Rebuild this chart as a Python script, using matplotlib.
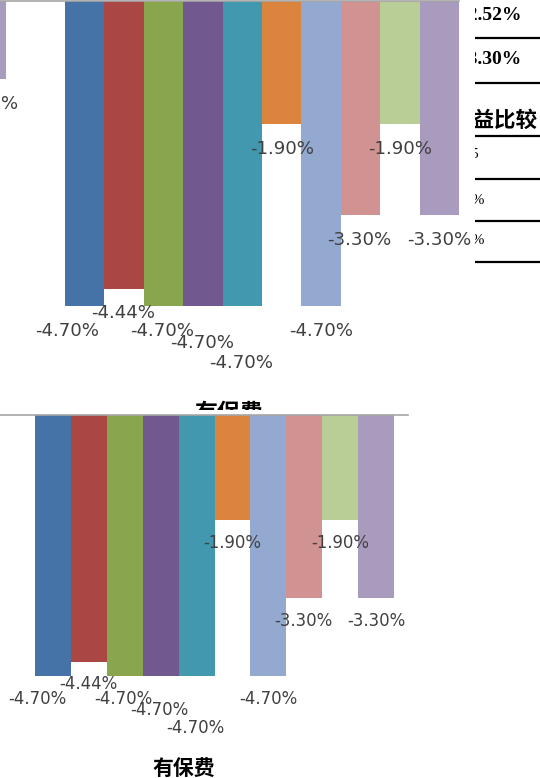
import numpy as np
import matplotlib.pyplot as plt

# ---------------- data ----------------
series_colors = ['#4572A7', '#AA4643', '#89A54E', '#71588F', '#4198AF',
                 '#DB843D', '#93A9CF', '#D19392', '#B9CD96', '#A99BBD']
values = [-4.70, -4.44, -4.70, -4.70, -4.70, -1.90, -4.70, -3.30, -1.90, -3.30]
category = '有保费'
prev_last = -1.20          # last bar of the group before, cut by the left edge

table_values = ['-2.52%', '-3.30%']
table_head = '收益比较'
table_tail = ['-0.45', '-1.30%', '-2.10%']

# label nudges (pixels, like excel moves the overlapping ones)
lab_dx = [-16, -1, -1, -1, -1, 0, 0, -1, 0, 0]
lab_dy = [0, 0.5, 0, -11.5, -29, 0, 0, -0.5, 0, -0.5]

W, H = 540, 778
fig = plt.figure(figsize=(W / 100, H / 100), dpi=100)


def px_axes(x0, x1, y0, y1):
    # axes from pixel box (y measured from top)
    return fig.add_axes([x0 / W, 1 - y1 / H, (x1 - x0) / W, (y1 - y0) / H])


def draw_chart(ax, s, fs, catfs, xmap, ymap, show_prev):
    x0, bw = xmap
    x = np.arange(len(values))
    ax.bar(x, values, width=1.0, color=series_colors, linewidth=0)
    if show_prev:
        ax.bar([-2.5], [prev_last], width=1.0, color=series_colors[-1], linewidth=0)
        ax.annotate('{:.2f}%'.format(prev_last), (-2.5, prev_last), xytext=(0, -25),
                    textcoords='offset pixels', ha='center', va='center',
                    fontsize=fs, color='#404040', annotation_clip=False)
    for i, v in enumerate(values):
        ax.annotate('{:.2f}%'.format(v), (x[i], v),
                    xytext=(lab_dx[i] * s, (-22.5 + lab_dy[i]) * s),
                    textcoords='offset pixels', ha='center', va='center',
                    fontsize=fs, color='#404040', annotation_clip=False)
    ax.text(3.65, -6.36, category, ha='center', va='center', fontsize=catfs,
            fontweight='bold', family=['Noto Sans CJK SC', 'DejaVu Sans'], clip_on=True)
    w_px = ax.get_position().width * W
    h_px = ax.get_position().height * H
    ax.set_xlim(-x0 / bw, (w_px - x0) / bw)
    ax.set_ylim(-h_px / ymap, 0)
    for sp in ['left', 'right', 'bottom']:
        ax.spines[sp].set_visible(False)
    ax.spines['top'].set_color('#a6a6a6')
    ax.spines['top'].set_linewidth(1.2)
    ax.set_xticks([])
    ax.set_yticks([])
    ax.patch.set_alpha(0)


# top chart (cut at the bottom by the second one)
ax1 = px_axes(0, 459, 1, 410)
draw_chart(ax1, 1.1, 13.1, 16.5, (84.7, 39.4), 64.9, True)

# bottom chart
ax2 = px_axes(0, 408, 414.5, 778)
draw_chart(ax2, 1.0, 11.9, 15, (53, 35.9), 55.7, False)

# piece of the table at the right
axt = px_axes(475, 540, 0, 270)
axt.set_xlim(475, 540)
axt.set_ylim(270, 0)
axt.axis('off')
for yy in [38, 83, 136, 179, 221, 262]:
    axt.plot([475, 540], [yy, yy], color='black', lw=1.6, solid_capstyle='butt')
for t, yy in zip(table_values, [16, 59]):
    axt.text(522, yy, t, ha='right', va='center', fontsize=14, fontweight='bold',
             family='Liberation Serif', clip_on=True)
axt.text(538, 120, table_head, ha='right', va='center', fontsize=15.5, fontweight='bold',
         family=['Noto Sans CJK SC', 'DejaVu Sans'], clip_on=True)
for t, xx, yy in zip(table_tail, [479, 485, 485], [155, 201, 241]):
    axt.text(xx, yy, t, ha='right', va='center', fontsize=11,
             family='Liberation Serif', clip_on=True)

plt.savefig('out.png', dpi=100)
